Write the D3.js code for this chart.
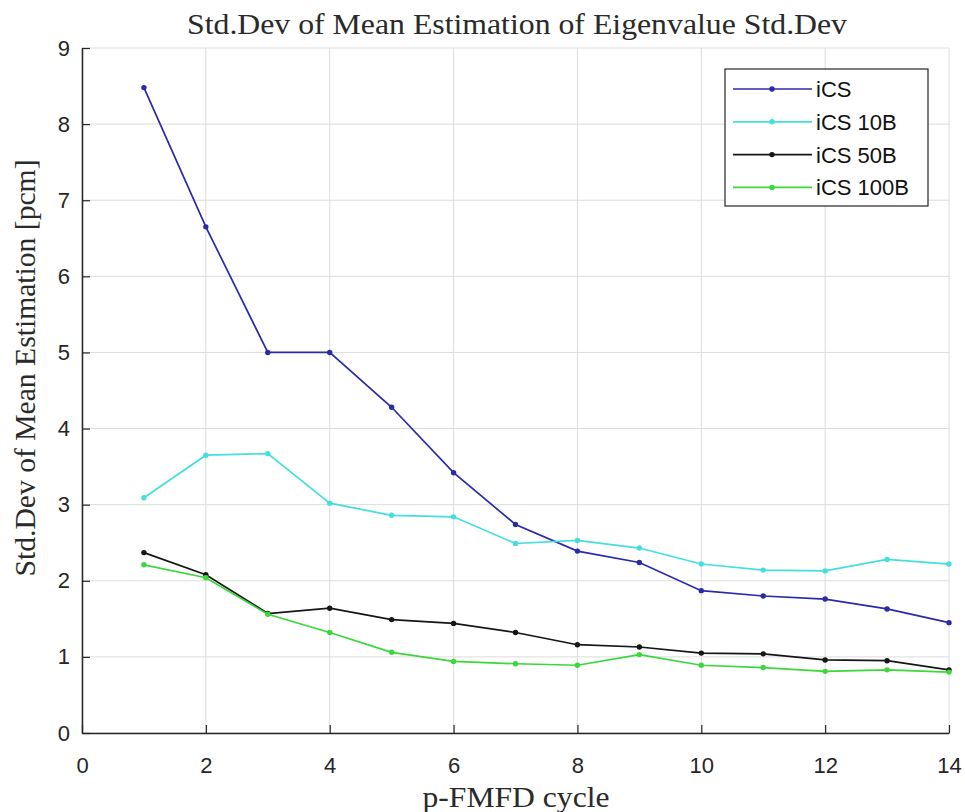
<!DOCTYPE html>
<html>
<head>
<meta charset="utf-8">
<script src="https://cdn.jsdelivr.net/npm/d3@7"></script>
<style>
  body { margin: 0; background: #fff; }
  svg { display: block; }
</style>
</head>
<body>
<div id="chart"></div>
<script>
// data
const cycles = [1, 2, 3, 4, 5, 6, 7, 8, 9, 10, 11, 12, 13, 14];
const icsVals = [8.48, 6.65, 5.0, 5.0, 4.28, 3.42, 2.74, 2.39, 2.24, 1.87, 1.80, 1.76, 1.63, 1.45];
const ics10Vals = [3.09, 3.65, 3.67, 3.02, 2.86, 2.84, 2.49, 2.53, 2.43, 2.22, 2.14, 2.13, 2.28, 2.22];
const ics50Vals = [2.37, 2.08, 1.57, 1.64, 1.49, 1.44, 1.32, 1.16, 1.13, 1.05, 1.04, 0.96, 0.95, 0.83];
const ics100Vals = [2.21, 2.04, 1.56, 1.32, 1.06, 0.94, 0.91, 0.89, 1.03, 0.89, 0.86, 0.81, 0.83, 0.80];
const seriesNames = ['iCS', 'iCS 10B', 'iCS 50B', 'iCS 100B'];
const seriesColors = ['#2a2aac', '#45dede', '#161616', '#3ad83a'];
const xTicks = [0, 2, 4, 6, 8, 10, 12, 14];
const yTicks = [0, 1, 2, 3, 4, 5, 6, 7, 8, 9];

const width = 965, height = 812;
const margin = {top: 48, right: 16, bottom: 79, left: 82};
const innerW = width - margin.left - margin.right;
const innerH = height - margin.top - margin.bottom;

const svg = d3.select('#chart').append('svg')
    .attr('width', width)
    .attr('height', height);

const g = svg.append('g')
    .attr('transform', `translate(${margin.left},${margin.top})`);

const x = d3.scaleLinear().domain([0, 14]).range([0, innerW]);
const y = d3.scaleLinear().domain([0, 9]).range([innerH, 0]);

// grid
g.append('g').selectAll('line').data(xTicks).join('line')
    .attr('x1', d => x(d)).attr('x2', d => x(d))
    .attr('y1', 0).attr('y2', innerH)
    .attr('stroke', '#dcdcdc').attr('stroke-width', 1);
g.append('g').selectAll('line').data(yTicks).join('line')
    .attr('x1', 0).attr('x2', innerW)
    .attr('y1', d => y(d)).attr('y2', d => y(d))
    .attr('stroke', '#dcdcdc').attr('stroke-width', 1);

// axes with inward ticks
const xAxis = g.append('g')
    .attr('transform', `translate(0,${innerH})`)
    .call(d3.axisBottom(x).tickValues(xTicks).tickSizeInner(-8).tickSizeOuter(0).tickPadding(24));
const yAxis = g.append('g')
    .call(d3.axisLeft(y).tickValues(yTicks).tickSizeInner(-8).tickSizeOuter(0).tickPadding(12));

[xAxis, yAxis].forEach(a => {
    a.select('.domain').attr('stroke', '#262626').attr('stroke-width', 1.5);
    a.selectAll('.tick line').attr('stroke', '#262626').attr('stroke-width', 1.2);
    a.selectAll('.tick text')
        .attr('fill', '#262626')
        .style('font-family', 'Liberation Sans, Arial, sans-serif')
        .style('font-size', '22px');
});
xAxis.selectAll('.tick text').attr('dy', '0.71em');

// lines
const allVals = [icsVals, ics10Vals, ics50Vals, ics100Vals];
const line = d3.line()
    .x((d, i) => x(cycles[i]))
    .y(d => y(d));

allVals.forEach((vals, k) => {
    g.append('path')
        .datum(vals)
        .attr('fill', 'none')
        .attr('stroke', seriesColors[k])
        .attr('stroke-width', 1.7)
        .attr('d', line);
    g.append('g').selectAll('circle').data(vals).join('circle')
        .attr('cx', (d, i) => x(cycles[i]))
        .attr('cy', d => y(d))
        .attr('r', 2.7)
        .attr('fill', seriesColors[k]);
});

// title and labels
const serif = 'Liberation Serif, DejaVu Serif, serif';
svg.append('text')
    .attr('x', 517).attr('y', 34)
    .attr('text-anchor', 'middle')
    .attr('textLength', 660).attr('lengthAdjust', 'spacingAndGlyphs')
    .style('font-family', serif)
    .style('font-size', '30px')
    .attr('fill', '#2a2a2a')
    .text('Std.Dev of Mean Estimation of Eigenvalue Std.Dev');

svg.append('text')
    .attr('x', 516).attr('y', 807)
    .attr('text-anchor', 'middle')
    .attr('textLength', 187).attr('lengthAdjust', 'spacingAndGlyphs')
    .style('font-family', serif)
    .style('font-size', '30px')
    .attr('fill', '#2a2a2a')
    .text('p-FMFD cycle');

svg.append('text')
    .attr('transform', 'translate(35,368) rotate(-90)')
    .attr('text-anchor', 'middle')
    .attr('textLength', 417).attr('lengthAdjust', 'spacingAndGlyphs')
    .style('font-family', serif)
    .style('font-size', '29px')
    .attr('fill', '#2a2a2a')
    .text('Std.Dev of Mean Estimation [pcm]');

// legend
const legend = svg.append('g').attr('transform', 'translate(725,69)');
legend.append('rect')
    .attr('width', 203).attr('height', 137)
    .attr('fill', '#fff')
    .attr('stroke', '#262626').attr('stroke-width', 1.2);
const legendRows = legend.selectAll('g.row').data(seriesNames).join('g')
    .attr('class', 'row')
    .attr('transform', (d, i) => `translate(0,${20 + i * 32.8})`);
legendRows.append('line')
    .attr('x1', 8).attr('x2', 87)
    .attr('stroke', (d, i) => seriesColors[i])
    .attr('stroke-width', 1.7);
legendRows.append('circle')
    .attr('cx', 47).attr('r', 2.7)
    .attr('fill', (d, i) => seriesColors[i]);
legendRows.append('text')
    .attr('x', 91).attr('dy', '0.36em')
    .style('font-family', 'Liberation Sans, Arial, sans-serif')
    .style('font-size', '22px')
    .attr('fill', '#111')
    .text(d => d);
</script>
</body>
</html>
